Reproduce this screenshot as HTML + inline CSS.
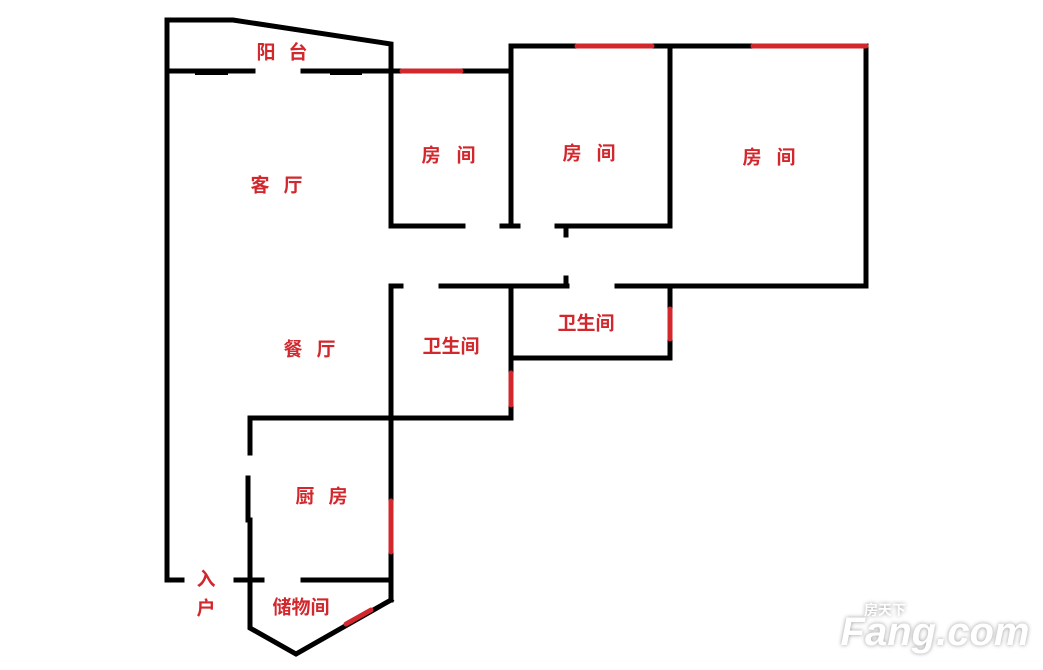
<!DOCTYPE html>
<html><head><meta charset="utf-8"><style>
html,body{margin:0;padding:0;background:#fff;}
svg{display:block;}
text{font-family:"Liberation Sans","Noto Sans CJK SC",sans-serif;font-weight:bold;fill:#d2282d;font-size:19px;text-anchor:middle;dominant-baseline:central;}
</style></head><body>
<svg width="1043" height="670" viewBox="0 0 1043 670" xmlns="http://www.w3.org/2000/svg">
<g stroke="#000" stroke-width="5" fill="none" stroke-linecap="square">
<polyline points="167,580 167,20 233,20 391,44 391,226"/>
<line x1="170" y1="71" x2="253" y2="71"/>
<line x1="303" y1="71" x2="511" y2="71"/>
<line x1="198" y1="72" x2="225" y2="72" stroke-width="6"/>
<line x1="333" y1="72" x2="359" y2="72" stroke-width="6"/>
<polyline points="511,226 511,46 866,46 866,286"/>
<line x1="670" y1="46" x2="670" y2="226"/>
<line x1="391" y1="226" x2="463" y2="226"/>
<line x1="502" y1="226" x2="518" y2="226"/>
<line x1="557" y1="226" x2="670" y2="226"/>
<line x1="566" y1="226" x2="566" y2="235"/>
<line x1="566" y1="278" x2="566" y2="286"/>
<polyline points="401,286 391,286 391,600"/>
<line x1="441" y1="286" x2="567" y2="286"/>
<line x1="617" y1="286" x2="866" y2="286"/>
<line x1="511" y1="286" x2="511" y2="418"/>
<polyline points="511,358 670,358 670,286"/>
<polyline points="250,453 250,418 511,418"/>
<polyline points="248,478 248,520"/>
<polyline points="250,520 250,628 296,654 391,600"/>
<line x1="168" y1="580" x2="182" y2="580"/>
<line x1="236" y1="580" x2="262" y2="580"/>
<line x1="303" y1="580" x2="391" y2="580"/>
</g>
<g stroke="#d2282d" stroke-width="5" stroke-linecap="round">
<line x1="402" y1="71" x2="461" y2="71"/>
<line x1="577" y1="46" x2="652" y2="46"/>
<line x1="753" y1="46" x2="866" y2="46"/>
<line x1="511" y1="373" x2="511" y2="405"/>
<line x1="670" y1="309" x2="670" y2="339"/>
<line x1="391" y1="501" x2="391" y2="552"/>
<line x1="346" y1="624" x2="371" y2="610"/>
</g>
<text x="266" y="53">阳</text><text x="298" y="53">台</text>
<text x="260" y="186">客</text><text x="293" y="186">厅</text>
<text x="431" y="156">房</text><text x="466" y="156">间</text>
<text x="572" y="154">房</text><text x="606" y="154">间</text>
<text x="752" y="158">房</text><text x="786" y="158">间</text>
<text x="451" y="347">卫生间</text>
<text x="586" y="324">卫生间</text>
<text x="293" y="350">餐</text><text x="326" y="350">厅</text>
<text x="305" y="497">厨</text><text x="338" y="497">房</text>
<text x="206" y="580">入</text><text x="206" y="609">户</text>
<text x="301" y="608">储物间</text>
<g style="filter:drop-shadow(0 0 2px #999)">
<text x="935" y="632" style="fill:#fff;font-size:40px;font-style:italic;">Fang.com</text>
<text x="885" y="610" style="fill:#fff;font-size:14px;">房天下</text>
</g>
</svg>
</body></html>
